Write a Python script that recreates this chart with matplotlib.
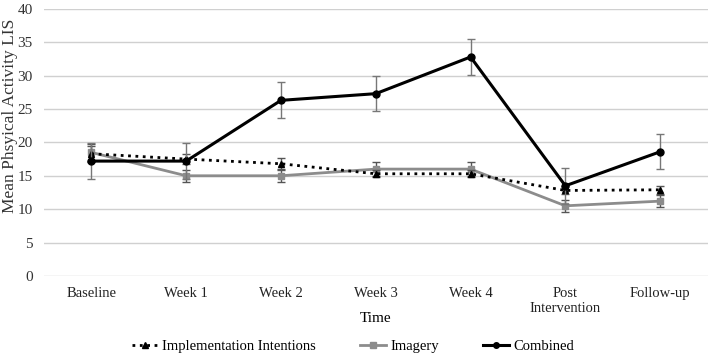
import numpy as np
import matplotlib.pyplot as plt
from matplotlib.lines import Line2D

plt.rcParams['font.family'] = ['Liberation Serif', 'DejaVu Serif']

times = ["Baseline", "Week 1", "Week 2", "Week 3", "Week 4", "Post\nIntervention", "Follow-up"]

# Means
implementation = [18.3, 17.5, 16.8, 15.3, 15.3, 12.8, 12.9]
imagery = [18.5, 15.0, 15.0, 16.0, 16.0, 10.5, 11.2]
combined = [17.2, 17.2, 26.3, 27.3, 32.8, 13.5, 18.6]

# Standard errors
implementation_err = [1.2, 0.8, 0.8, 0.5, 0.5, 0.6, 0.6]
imagery_err = [1.3, 0.9, 0.9, 1.0, 1.0, 0.9, 0.9]
combined_err = [2.7, 2.7, 2.7, 2.6, 2.7, 2.7, 2.6]

fig = plt.figure(figsize=(7.09, 3.56), dpi=100)
ax = fig.add_axes([0.062, 0.225, 0.936, 0.75])

x = np.arange(len(times))

ax.errorbar(x, implementation, yerr=implementation_err, color="black", linestyle=":",
            linewidth=2, marker="^", markersize=5, ecolor="#555555", elinewidth=1,
            capsize=3, zorder=3)
ax.errorbar(x, imagery, yerr=imagery_err, color="#8c8c8c", linestyle="-",
            linewidth=2, marker="s", markersize=5, ecolor="#555555", elinewidth=1,
            capsize=3, zorder=2)
ax.errorbar(x, combined, yerr=combined_err, color="black", linestyle="-",
            linewidth=2.2, marker="o", markersize=5, ecolor="#777777", elinewidth=1,
            capsize=3, zorder=4)

ax.set_xlim(-0.5, len(times) - 0.5)
ax.set_ylim(0, 40)
ax.set_yticks(range(0, 41, 5))
ax.set_xticks(x)
ax.set_xticklabels(times, fontsize=10.5, color="#222222")
ax.tick_params(axis="y", labelsize=11, colors="#333333", length=0, pad=8)
ax.tick_params(axis="x", length=0, pad=8)

ax.yaxis.grid(True, color="#d0d0d0", linewidth=1)
ax.set_axisbelow(True)
for s in ax.spines.values():
    s.set_visible(False)

ax.set_xlabel("Time", fontsize=11, labelpad=-2)
ax.set_ylabel("Mean Phsyical Activity LIS", fontsize=12.5, color="#333333")
ax.yaxis.set_label_coords(-0.039, 0.6)

# legend handles without the error bars
handles = [
    Line2D([], [], color="black", linestyle=":", linewidth=2, marker="^", markersize=5),
    Line2D([], [], color="#8c8c8c", linestyle="-", linewidth=2, marker="s", markersize=4),
    Line2D([], [], color="black", linestyle="-", linewidth=2.2, marker="o", markersize=4),
]
labels = ["Implementation Intentions", "Imagery", "Combined"]
fig.legend(handles, labels, loc="center", bbox_to_anchor=(0.498, 0.027), ncol=3,
           frameon=False, fontsize=10.5, handlelength=1.8, columnspacing=3.0,
           handletextpad=0.3)

fig.savefig("out.png", dpi=100)
